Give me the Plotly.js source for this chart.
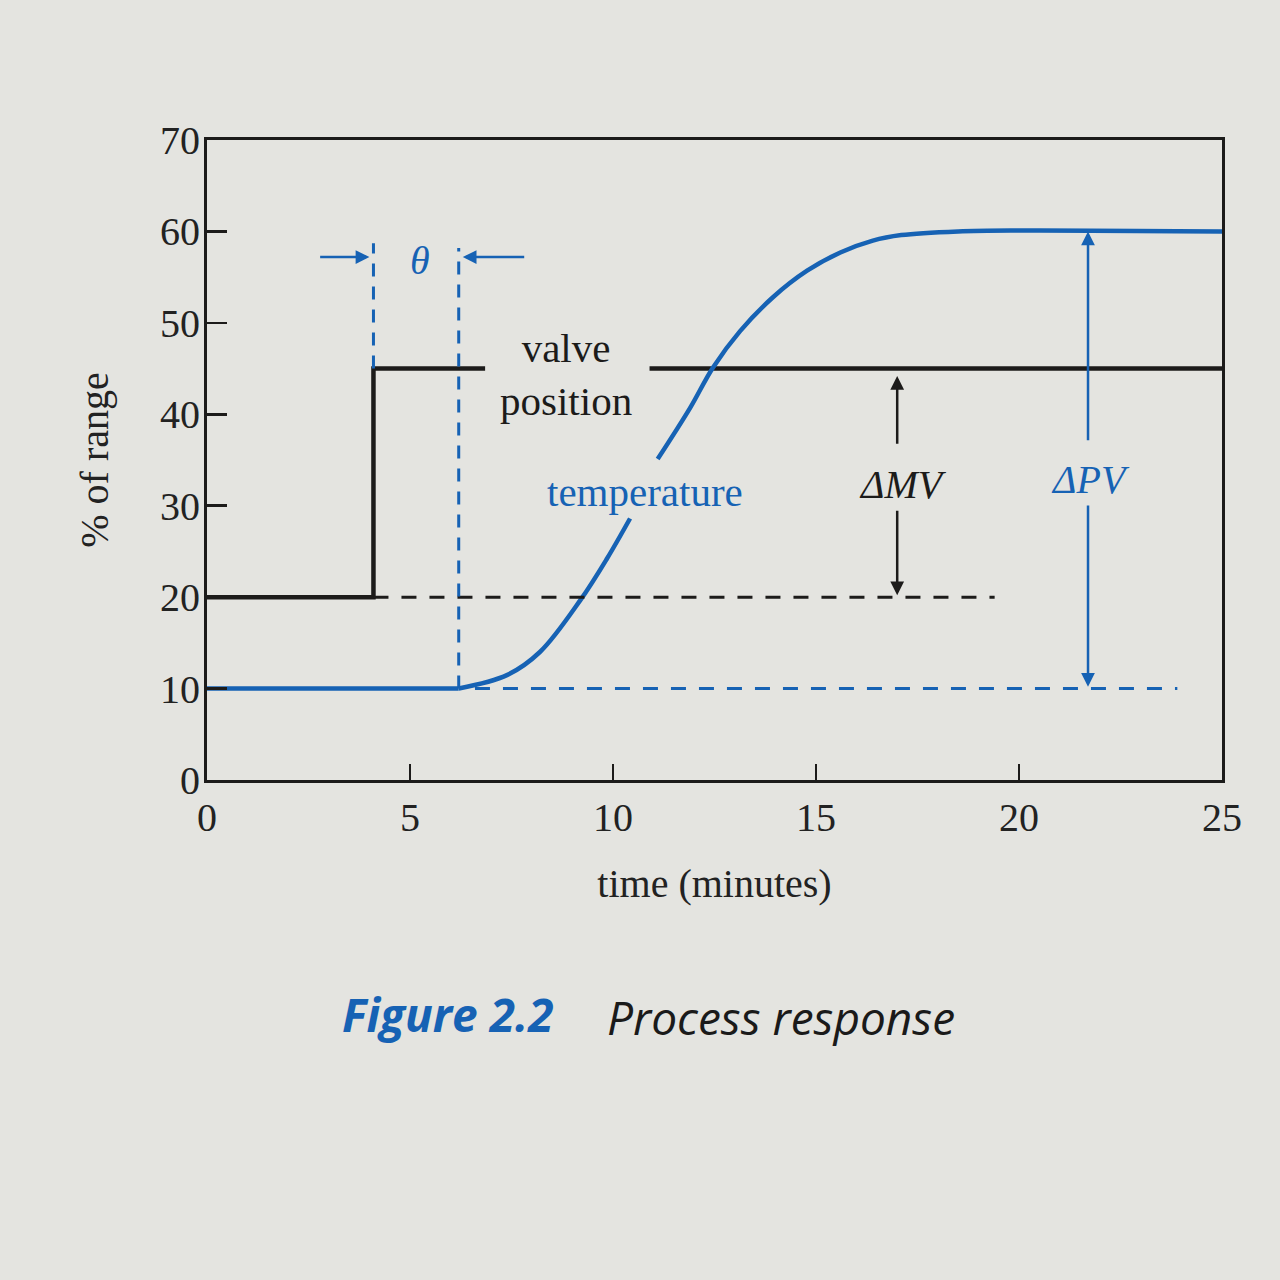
<!DOCTYPE html>
<html>
<head>
<meta charset="utf-8">
<script src="https://cdn.plot.ly/plotly-3.0.1.min.js"></script>
<style>html,body{margin:0;padding:0;background:#e4e4e0;}</style>
</head>
<body>
<div id="chart" style="width:1280px;height:1280px;"></div>
<script>
// Valve position (% of range) – solid black, split where the label sits
const valveTimeA = [0, 4.1, 4.1, 6.85];
const valveValA  = [20, 20, 45, 45];
const valveTimeB = [10.9, 25];
const valveValB  = [45, 45];

// Temperature (% of range) – solid blue: flat before the dead time, then the rise
const tempTimeFlat = [0, 6.2];
const tempValFlat  = [10, 10];
const tempTimeA = [6.2, 7.4, 8.2, 9.2, 9.85, 10.42];
const tempValA  = [10, 11.5, 14.0, 19.7, 24.2, 28.6];
const tempTimeB = [11.1, 11.9, 12.46, 13.13, 13.94, 14.78, 15.6, 16.4, 17.1, 18.5, 20, 25];
const tempValB  = [35.1, 40.7, 45.1, 49.1, 52.8, 55.7, 57.7, 59.0, 59.6, 60, 60.1, 60];

// Reference (dashed) lines
const mvBaseTime = [4.1, 19.4];
const mvBaseVal  = [20, 20];
const pvBaseTime = [6.6, 23.9];
const pvBaseVal  = [10, 10];
const stepMarkTime = [4.1, 4.1];
const stepMarkVal  = [45, 58.7];
const deadMarkTime = [6.2, 6.2];
const deadMarkVal  = [10, 58.2];

// Labels
const xTicks = [0, 5, 10, 15, 20, 25];
const yTicks = [0, 10, 20, 30, 40, 50, 60, 70];

const BLACK = '#1c1b1a';
const BLUE = '#1662b4';
const SERIF = 'Liberation Serif, Times New Roman, serif';

const traces = [
  {x: valveTimeA, y: valveValA, mode: 'lines', line: {color: BLACK, width: 4.5}},
  {x: valveTimeB, y: valveValB, mode: 'lines', line: {color: BLACK, width: 4.5}},
  {x: tempTimeFlat, y: tempValFlat, mode: 'lines', line: {color: BLUE, width: 4.5}},
  {x: tempTimeA, y: tempValA, mode: 'lines', line: {color: BLUE, width: 4.5, shape: 'spline', smoothing: 1}},
  {x: tempTimeB, y: tempValB, mode: 'lines', line: {color: BLUE, width: 4.5, shape: 'spline', smoothing: 1}},
  {x: mvBaseTime, y: mvBaseVal, mode: 'lines', line: {color: BLACK, width: 3, dash: '15px,13px'}},
  {x: pvBaseTime, y: pvBaseVal, mode: 'lines', line: {color: BLUE, width: 3, dash: '15px,13px'}},
  {x: stepMarkTime, y: stepMarkVal, mode: 'lines', line: {color: BLUE, width: 3, dash: '13px,10px'}},
  {x: deadMarkTime, y: deadMarkVal, mode: 'lines', line: {color: BLUE, width: 3, dash: '13px,10px'}}
].map(t => Object.assign(t, {showlegend: false, hoverinfo: 'skip'}));

function arrow(x, y, ax, ay, color) {
  return {x: x, y: y, ax: ax, ay: ay, xref: 'x', yref: 'y', axref: 'x', ayref: 'y',
    text: '', showarrow: true, arrowhead: 2, arrowsize: 1.1, arrowwidth: 2.5, arrowcolor: color};
}
function label(x, y, text, color, size) {
  return {x: x, y: y, xref: 'x', yref: 'y', text: text, showarrow: false,
    font: {family: SERIF, size: size || 40, color: color}};
}

const annotations = [
  arrow(4.0, 57.2, 2.75, 57.2, BLUE),
  arrow(6.3, 57.2, 7.85, 57.2, BLUE),
  label(5.25, 56.8, '<i>θ</i>', BLUE, 40),
  label(8.85, 44.3, 'valve<br>position', BLACK, 41),
  label(10.8, 31.5, 'temperature', BLUE, 41),
  arrow(17.0, 44.2, 17.0, 36.6, BLACK),
  arrow(17.0, 20.2, 17.0, 29.6, BLACK),
  label(17.15, 32.3, '<i>ΔMV</i>', BLACK, 40),
  arrow(21.7, 60.0, 21.7, 37.0, BLUE),
  arrow(21.7, 10.2, 21.7, 30.2, BLUE),
  label(21.75, 32.9, '<i>ΔPV</i>', BLUE, 40),
  {x: 0.343, y: -0.365, xref: 'paper', yref: 'paper', showarrow: false, xanchor: 'right', yanchor: 'middle',
   text: '<b><i>Figure 2.2</i></b>', font: {family: 'Open Sans, sans-serif', size: 46, color: BLUE}},
  {x: 0.392, y: -0.37, xref: 'paper', yref: 'paper', showarrow: false, xanchor: 'left', yanchor: 'middle',
   text: '<i>Process response</i>', font: {family: 'Open Sans, sans-serif', size: 46, color: '#1a1a1a'}}
];

const layout = {
  width: 1280, height: 1280,
  margin: {l: 207, r: 58, t: 140, b: 500},
  paper_bgcolor: '#e4e4e0', plot_bgcolor: '#e4e4e0',
  font: {family: SERIF, size: 40, color: '#222'},
  xaxis: {
    range: [0, 25], tickvals: xTicks, ticktext: xTicks.map(String),
    ticks: 'inside', ticklen: 16, tickwidth: 2.5, tickcolor: BLACK,
    showline: true, linecolor: BLACK, linewidth: 3, mirror: true,
    showgrid: false, zeroline: false, ticklabelstandoff: 0,
    tickfont: {family: SERIF, size: 40, color: '#222'},
    title: {text: 'time (minutes)', font: {family: SERIF, size: 40, color: '#222'}, standoff: 30}
  },
  yaxis: {
    range: [0, 70], tickvals: yTicks, ticktext: yTicks.map(String),
    ticks: 'inside', ticklen: 20, tickwidth: 2.5, tickcolor: BLACK,
    showline: true, linecolor: BLACK, linewidth: 3, mirror: true,
    showgrid: false, zeroline: false, ticklabelstandoff: -4,
    tickfont: {family: SERIF, size: 40, color: '#222'},
    title: {text: '% of range', font: {family: SERIF, size: 40, color: '#222'}, standoff: 40}
  },
  annotations: annotations
};

Plotly.newPlot('chart', traces, layout, {displayModeBar: false, staticPlot: true});
</script>
</body>
</html>
